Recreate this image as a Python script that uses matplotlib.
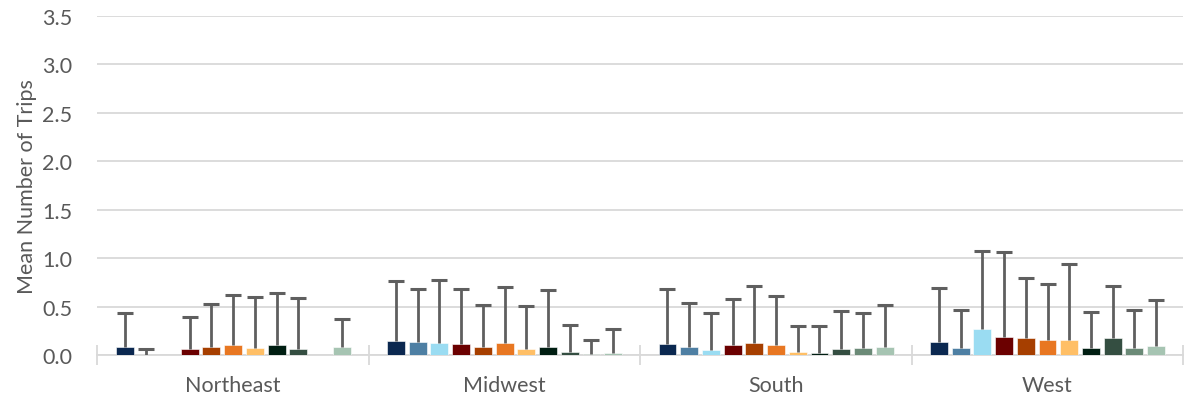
import matplotlib
matplotlib.use("Agg")
import matplotlib.pyplot as plt
import numpy as np

regions = ["Northeast", "Midwest", "South", "West"]

series_colors = ["#0B2850", "#4E7FA3", "#9ADCF2", "#6B0000", "#A63F00",
                 "#E87722", "#FFBF66", "#001E12", "#344E41", "#6B8A77", "#A6C4B2"]

# mean trips per series (rows) for each region (columns)
means = [
    [0.08, 0.15, 0.115, 0.14],
    [0.005, 0.14, 0.08, 0.075],
    [0.0, 0.13, 0.055, 0.265],
    [0.06, 0.12, 0.105, 0.19],
    [0.08, 0.085, 0.13, 0.175],
    [0.10, 0.125, 0.11, 0.155],
    [0.07, 0.065, 0.035, 0.16],
    [0.11, 0.085, 0.027, 0.07],
    [0.06, 0.035, 0.06, 0.18],
    [0.005, 0.015, 0.075, 0.07],
    [0.08, 0.025, 0.085, 0.09],
]

# upper end of the error bar for each series / region
upper = [
    [0.43, 0.77, 0.68, 0.69],
    [0.06, 0.68, 0.54, 0.47],
    [0.0, 0.78, 0.43, 1.07],
    [0.39, 0.68, 0.58, 1.06],
    [0.53, 0.52, 0.71, 0.80],
    [0.62, 0.70, 0.61, 0.73],
    [0.60, 0.51, 0.30, 0.94],
    [0.64, 0.67, 0.30, 0.45],
    [0.59, 0.31, 0.46, 0.71],
    [0.005, 0.16, 0.44, 0.47],
    [0.37, 0.27, 0.52, 0.57],
]

yticks = [0.0, 0.5, 1.0, 1.5, 2.0, 2.5, 3.0, 3.5]

plt.rcParams["font.family"] = ["Lato", "DejaVu Sans"]

fig = plt.figure(figsize=(11.88, 4.02), dpi=100)
ax = fig.add_axes([0.082, 0.114, 0.914, 0.844])

n = len(means)
step = 0.080
width = 0.066
x = np.arange(len(regions))
err_color = "#5F5F5F"

for i in range(n):
    m = np.array(means[i])
    up = np.array(upper[i])
    pos = x + (i - (n - 1) / 2) * step
    ax.bar(pos, m, width=width, color=series_colors[i], zorder=3,
           edgecolor="white", linewidth=0.4)
    show = (up - m) > 0.01
    # upper-only error bars: stem from the bar top, cap at the upper value
    ax.vlines(pos[show], m[show], up[show], color=err_color, linewidth=2,
              zorder=4)
    ax.plot(pos[show], up[show], linestyle="none", marker="_",
            markersize=12, markeredgewidth=2.2, color=err_color, zorder=4)

ax.set_ylim(0, 3.5)
ax.set_xlim(-0.5, len(regions) - 0.5)
ax.set_yticks(yticks)
ax.set_yticklabels([f"{t:.1f}" for t in yticks])
ax.yaxis.grid(True, color="#D9D9D9", linewidth=1.3, zorder=0)
ax.set_axisbelow(True)

for s in ["top", "right", "left"]:
    ax.spines[s].set_visible(False)
ax.spines["bottom"].set_color("#D9D9D9")
ax.spines["bottom"].set_linewidth(1.3)

ax.tick_params(axis="y", length=0, pad=18, labelsize=15.5, labelcolor="#595959")

# category labels at centers, boundary tick marks between groups
ax.set_xticks(x)
ax.set_xticklabels(regions)
ax.tick_params(axis="x", length=0, pad=14, labelsize=15.5, labelcolor="#595959")
ax.set_xticks(np.arange(-0.5, len(regions)), minor=True)
ax.tick_params(axis="x", which="minor", direction="inout", length=14,
               width=1.3, color="#D9D9D9")

ax.set_ylabel("Mean Number of Trips", fontsize=15.5, color="#595959", labelpad=4)

fig.savefig("out.png", dpi=100)
